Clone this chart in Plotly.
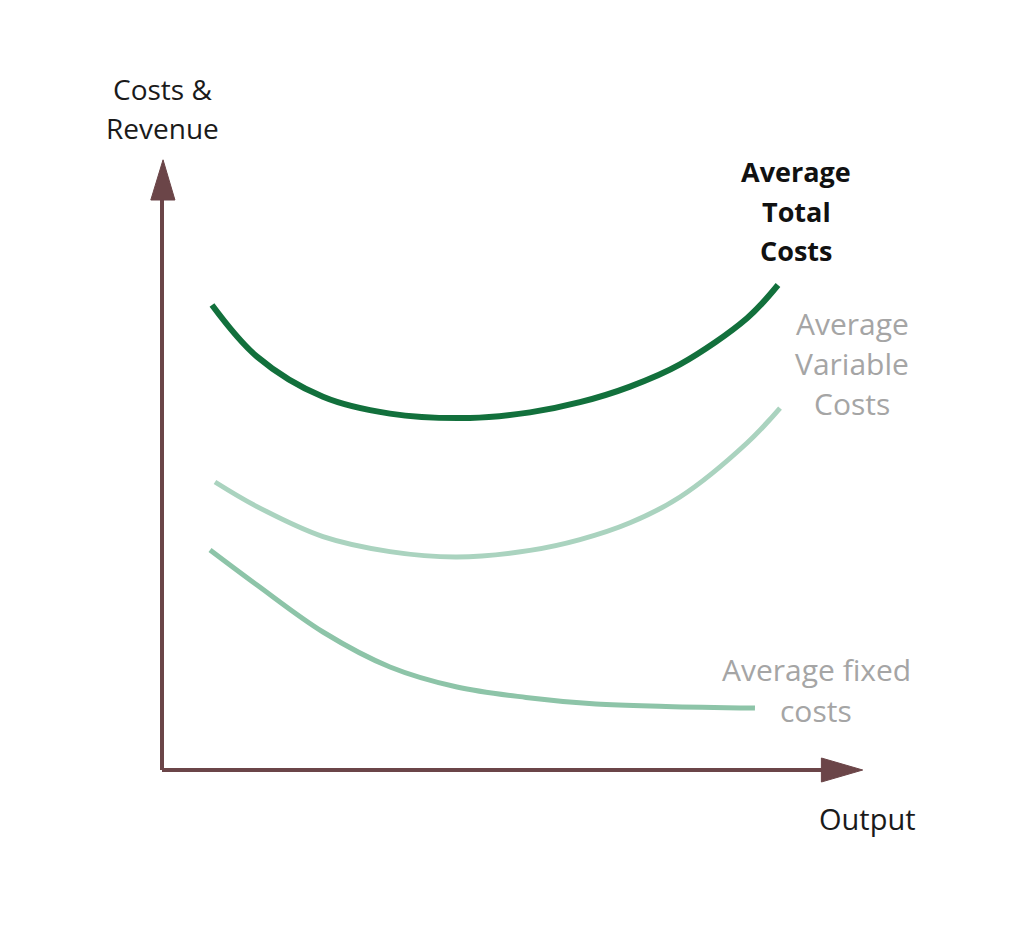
import plotly.graph_objects as go

# Schematic data (output 0..100, cost 0..100)
atc_x = [7.14, 13.57, 23.0, 32.57, 44.0, 52.57, 59.71, 66.86, 74.0, 83.57, 88.0]
atc_y = [77.5, 68.9, 62.2, 59.4, 58.67, 59.6, 61.3, 63.9, 67.6, 75.3, 80.83]

avc_x = [7.57, 13.57, 23.0, 32.57, 42.14, 52.57, 59.71, 66.86, 74.0, 83.57, 88.29]
avc_y = [48.0, 43.9, 38.9, 36.4, 35.5, 36.6, 38.4, 41.2, 45.5, 54.5, 60.33]

afc_x = [6.86, 13.57, 23.0, 32.57, 42.14, 52.0, 62.0, 72.0, 84.71]
afc_y = [36.67, 30.83, 23.0, 17.17, 13.83, 12.1, 11.0, 10.6, 10.33]

series_names = ["Average Total Costs", "Average Variable Costs", "Average fixed costs"]
series_colors = ["#12703c", "#aad3bf", "#8dc4a8"]
series_widths = [6, 5, 5]

# axis geometry: pixel scale 7 px / x-unit, 6 px / y-unit, origin at (162, 770)
W, H = 1024, 938
page_off = 8  # body margin of the html page
ox, oy = 162, 770
sx, sy = 7.0, 6.0
x_range = [-(ox - page_off) / sx, (W - (ox - page_off)) / sx]
y_range = [-(H - (oy - page_off)) / sy, (oy - page_off) / sy]

fig = go.Figure()
for xs, ys, name, col, w in zip([atc_x, avc_x, afc_x], [atc_y, avc_y, afc_y],
                                series_names, series_colors, series_widths):
    fig.add_trace(go.Scatter(x=xs, y=ys, mode="lines", name=name,
                             line=dict(color=col, width=w, shape="spline", smoothing=1.0),
                             hoverinfo="skip"))

axis_col = "#6b4548"
x_tip = 100.1
y_tip = 101.7
shapes = [
    dict(type="line", x0=0, y0=0, x1=95, y1=0, line=dict(color=axis_col, width=4), layer="above"),
    dict(type="line", x0=0, y0=0, x1=0, y1=95, line=dict(color=axis_col, width=4), layer="above"),
    dict(type="path", path=f"M {x_tip - 5.9},{2.0} L {x_tip},0 L {x_tip - 5.9},{-2.0} Z",
         fillcolor=axis_col, line=dict(color=axis_col, width=1)),
    dict(type="path", path=f"M {-1.6},{y_tip - 6.7} L 0.15,{y_tip} L {1.85},{y_tip - 6.7} Z",
         fillcolor=axis_col, line=dict(color=axis_col, width=1)),
]

def px2x(px):
    return (px - ox) / sx

def py2y(py):
    return (oy - py) / sy

font_family = "Open Sans, Lato, sans-serif"
ann = []
def add_lines(lines, cx, ys, color, bold=False, size=29):
    for t, yy in zip(lines, ys):
        txt = f"<b>{t}</b>" if bold else t
        ann.append(dict(x=px2x(cx), y=py2y(yy), text=txt, showarrow=False,
                        xanchor="center", yanchor="middle",
                        font=dict(family=font_family, size=size, color=color)))

add_lines(["Costs &", "Revenue"], 162, [89, 128], "#1a1a1a", size=28)
add_lines(["Average", "Total", "Costs"], 796, [171, 211, 250], "#111111", bold=True, size=27)
add_lines(["Average", "Variable", "Costs"], 852, [323, 363, 403], "#a5a5a5", size=30)
add_lines(["Average fixed", "costs"], 816, [669, 710], "#a5a5a5", size=30)
add_lines(["Output"], 867, [818], "#1a1a1a", size=29)

fig.update_layout(
    width=W, height=H,
    margin=dict(l=0, r=0, t=0, b=0),
    paper_bgcolor="white", plot_bgcolor="white",
    showlegend=False,
    xaxis=dict(range=x_range, visible=False, fixedrange=True),
    yaxis=dict(range=y_range, visible=False, fixedrange=True),
    shapes=shapes, annotations=ann,
)

fig.write_html("out.html")
